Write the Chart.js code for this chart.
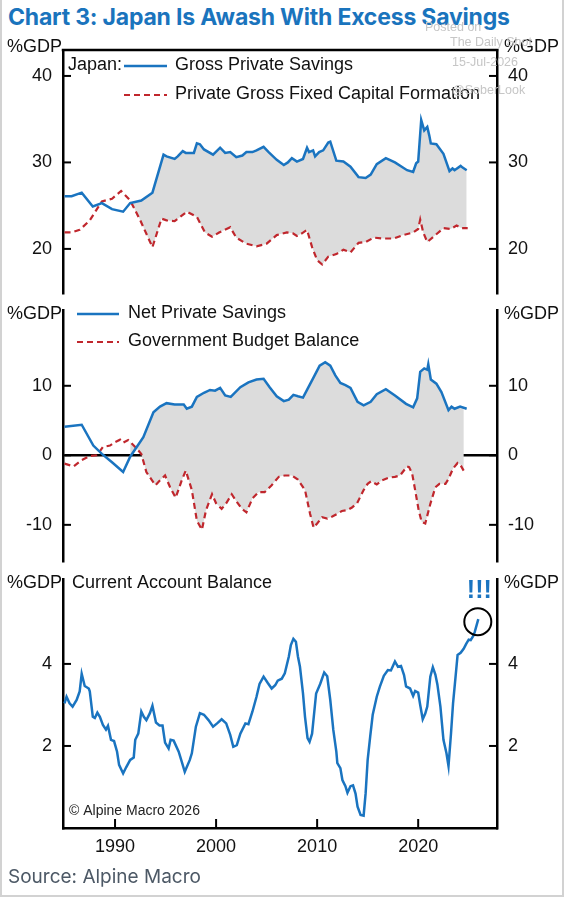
<!DOCTYPE html>
<html>
<head>
<meta charset="utf-8">
<script src="https://cdn.jsdelivr.net/npm/chart.js@4.4.1/dist/chart.umd.min.js"></script>
<style>
  body { margin: 0; background: #fff; }
  #wrap { position: relative; width: 564px; height: 897px; overflow: hidden; background: #fff; }
  canvas { position: absolute; left: 0; }
  #frame { position: absolute; left: 0; top: 0; width: 564px; height: 897px; box-sizing: border-box;
           border-left: 2px solid #d2d2d2; border-right: 2px solid #d2d2d2; border-bottom: 2px solid #d2d2d2; pointer-events: none; }
  #title { position: absolute; left: 8px; top: 3px; font-family: Inter, sans-serif; font-weight: 700; font-size: 23px;
           color: #1a74bd; white-space: nowrap; letter-spacing: -0.2px; }
  #source { position: absolute; left: 8px; top: 865px; font-family: Inter, sans-serif; font-weight: 400; font-size: 19px; color: #4d5966; }
  .wm { position: absolute; font-family: "Liberation Sans", Arial, sans-serif; font-size: 12.5px; color: #c6c6c6; white-space: nowrap; }
</style>
</head>
<body>
<div id="wrap">
  <div id="title">Chart 3: Japan Is Awash With Excess Savings</div>
  <canvas id="c1" width="564" height="320" style="top:0px"></canvas>
  <canvas id="c2" width="564" height="310" style="top:280px"></canvas>
  <canvas id="c3" width="564" height="320" style="top:550px"></canvas>
  <div class="wm" style="left:425px;top:20px">Posted on</div>
  <div class="wm" style="left:450px;top:35px">The Daily Shot</div>
  <div class="wm" style="left:452px;top:55px">15-Jul-2026</div>
  <div class="wm" style="left:452px;top:83px">@SoberLook</div>
  <div id="source">Source: Alpine Macro</div>
  <div id="frame"></div>
</div>
<script>
// ---- data ----
const grossSavYears = [1985.0,1985.7,1986.7,1987.8,1988.7,1989.7,1990.8,1991.5,1992.6,1993.7,1994.8,1995.1,1995.9,1996.2,1996.7,1997.0,1997.8,1998.1,1998.4,1998.8,1999.7,2000.4,2000.9,2001.4,2002.0,2002.6,2003.0,2003.6,2004.0,2004.7,2005.2,2006.0,2006.7,2007.1,2007.5,2008.0,2008.6,2009.0,2009.2,2009.6,2009.8,2010.2,2010.6,2011.1,2011.3,2011.9,2012.6,2013.3,2014.1,2014.8,2015.3,2015.9,2016.8,2017.7,2018.9,2019.5,2019.8,2020.0,2020.3,2020.6,2020.9,2021.1,2021.25,2021.8,2022.5,2023.1,2023.4,2023.6,2024.2,2024.4,2024.8];
const grossSavValues = [26.1,26.1,26.5,24.9,25.3,24.6,24.3,25.3,25.6,26.5,30.9,30.7,30.4,30.7,31.3,31.1,31.1,32.2,32.1,31.5,30.9,31.7,31.1,31.2,30.6,30.8,31.2,31.2,31.4,31.8,31.2,30.3,29.7,30.0,30.5,30.1,30.4,31.7,31.2,31.4,30.7,31.2,31.4,32.3,32.4,30.2,30.1,29.5,28.3,28.2,28.6,29.8,30.5,30.0,29.1,28.9,29.9,30.1,34.9,33.7,34.1,33.1,32.2,32.1,31.0,29.0,29.3,29.1,29.6,29.4,29.1];

const capFormYears = [1985.0,1985.7,1986.5,1987.5,1988.7,1989.7,1990.6,1991.5,1992.5,1993.7,1994.6,1995.1,1995.9,1997.1,1998.1,1998.9,1999.6,2000.3,2001.4,2002.0,2003.0,2004.0,2005.0,2006.0,2007.0,2007.6,2008.0,2008.5,2009.0,2009.5,2010.0,2010.5,2011.1,2011.9,2012.6,2013.3,2014.1,2014.8,2015.6,2016.6,2017.6,2018.5,2019.5,2020.0,2020.2,2020.5,2020.9,2021.5,2022.5,2023.2,2023.8,2024.3,2024.9];
const capFormValues = [21.9,21.9,22.2,23.3,25.5,25.8,26.7,25.6,23.3,20.2,23.5,23.3,23.2,24.3,23.7,21.9,21.4,21.9,22.5,21.3,20.6,20.3,20.6,21.6,21.9,21.8,21.5,21.8,22.2,20.2,18.7,18.2,19.1,19.4,19.9,19.6,20.7,20.8,21.3,21.2,21.2,21.6,21.9,22.3,23.4,21.9,20.8,21.4,22.4,22.3,22.7,22.4,22.4];

const netSavYears = [1985.0,1986.7,1987.85,1988.7,1989.7,1990.8,1991.5,1992.8,1993.8,1994.45,1995.1,1995.9,1996.8,1997.1,1997.6,1998.1,1998.8,1999.4,1999.9,2000.4,2000.9,2001.45,2002.4,2003.2,2004.0,2004.7,2005.3,2006.0,2006.7,2007.2,2007.65,2008.1,2008.6,2009.0,2009.65,2010.25,2010.8,2011.3,2011.8,2012.3,2012.8,2013.3,2014.0,2014.6,2015.3,2015.9,2016.8,2017.7,2018.8,2019.5,2019.9,2020.2,2020.6,2020.9,2021.0,2021.25,2021.8,2022.3,2023.0,2023.3,2023.6,2024.15,2024.8];
const netSavValues = [4.1,4.4,1.4,0.2,-1.0,-2.4,-0.2,2.6,6.2,7.0,7.5,7.3,7.3,6.7,7.0,8.4,9.0,9.4,9.3,9.7,8.6,8.4,9.8,10.5,10.9,11.0,9.8,8.5,7.8,8.0,8.7,8.5,8.3,9.4,11.2,12.9,13.4,12.9,11.5,10.4,10.1,9.7,7.7,7.2,7.7,8.8,9.5,8.6,7.4,6.9,8.2,12.0,12.5,12.3,13.1,10.9,10.3,9.1,6.5,7.0,6.7,7.0,6.7];

const budgetYears = [1985.0,1985.9,1986.7,1987.5,1988.2,1988.8,1989.5,1990.0,1990.5,1990.8,1991.3,1992.0,1992.6,1993.1,1994.0,1994.45,1994.95,1995.45,1996.0,1996.6,1997.0,1997.6,1998.1,1998.6,1999.0,1999.6,2000.0,2000.55,2001.0,2001.55,2002.05,2002.55,2003.0,2003.6,2004.2,2004.8,2005.5,2006.2,2006.8,2007.5,2008.1,2008.8,2009.3,2009.65,2010.0,2010.5,2011.0,2011.5,2012.0,2012.45,2012.95,2013.45,2013.95,2014.6,2015.0,2015.35,2015.9,2016.4,2017.1,2017.7,2018.2,2018.9,2019.1,2019.4,2019.7,2020.05,2020.35,2020.7,2021.2,2021.7,2022.1,2022.7,2023.0,2023.45,2023.9,2024.15,2024.5];
const budgetValues = [-1.2,-1.6,-0.7,-0.1,0.0,1.2,1.4,1.9,2.25,1.8,2.2,1.2,0.2,-2.4,-4.3,-3.6,-2.9,-4.6,-6.1,-3.6,-2.2,-5.0,-9.4,-10.7,-7.9,-5.6,-6.9,-7.7,-6.9,-5.6,-6.7,-7.7,-8.2,-6.2,-5.3,-5.3,-4.3,-3.1,-2.9,-2.9,-3.5,-5.0,-8.4,-10.4,-9.8,-8.9,-9.1,-8.8,-8.4,-8.0,-7.9,-7.5,-6.9,-5.0,-4.1,-3.7,-4.2,-3.6,-3.2,-3.1,-2.9,-1.6,-1.7,-2.6,-5.0,-7.9,-9.6,-9.8,-7.0,-4.6,-4.1,-4.1,-3.4,-1.9,-1.1,-1.3,-2.2];

const caYears = [1985.0,1985.2,1985.5,1985.8,1986.2,1986.5,1986.7,1987.0,1987.4,1987.5,1987.8,1988.0,1988.25,1988.5,1988.8,1989.1,1989.3,1989.6,1989.9,1990.2,1990.4,1990.8,1991.1,1991.5,1991.85,1992.0,1992.3,1992.6,1992.85,1993.1,1993.45,1993.7,1994.05,1994.4,1994.7,1994.95,1995.3,1995.5,1995.8,1996.3,1996.6,1996.9,1997.4,1997.6,1998.0,1998.4,1998.8,1999.25,1999.7,2000.1,2000.55,2001.0,2001.4,2001.7,2002.05,2002.4,2002.9,2003.2,2003.6,2004.0,2004.3,2004.7,2005.1,2005.5,2005.85,2006.1,2006.5,2006.8,2007.2,2007.4,2007.65,2007.9,2008.1,2008.3,2008.6,2008.8,2009.05,2009.25,2009.5,2009.9,2010.3,2010.7,2011.0,2011.3,2011.6,2011.9,2012.0,2012.3,2012.5,2012.8,2013.0,2013.3,2013.55,2013.8,2014.0,2014.3,2014.6,2014.8,2015.0,2015.25,2015.5,2015.9,2016.2,2016.6,2017.0,2017.3,2017.5,2017.7,2018.0,2018.3,2018.6,2018.8,2019.2,2019.5,2019.7,2020.0,2020.2,2020.45,2020.7,2020.9,2021.2,2021.45,2021.7,2021.9,2022.2,2022.5,2022.8,2023.0,2023.25,2023.45,2023.7,2023.9,2024.2,2024.5,2024.75,2025.0,2025.2,2025.45,2025.6,2025.95];
const caValues = [3.04,3.2,3.04,2.96,3.12,3.33,3.76,3.46,3.4,3.33,2.71,2.68,2.81,2.71,2.51,2.4,2.49,2.15,2.12,1.86,1.54,1.33,1.48,1.66,1.72,2.15,2.3,2.84,2.71,2.63,2.8,2.98,2.57,2.5,2.5,2.08,1.94,2.15,2.13,1.86,1.62,1.37,1.66,1.82,2.47,2.8,2.76,2.63,2.47,2.55,2.65,2.55,2.27,1.98,2.02,2.3,2.55,2.53,2.84,3.2,3.51,3.69,3.54,3.4,3.48,3.59,3.64,3.77,4.18,4.46,4.61,4.54,4.18,3.93,3.28,2.71,2.19,2.1,2.3,3.28,3.51,3.79,3.7,3.12,2.39,1.86,1.58,1.46,1.17,1.02,0.86,1.02,1.04,0.84,0.52,0.32,0.3,0.85,1.66,2.23,2.76,3.2,3.44,3.71,3.85,3.84,3.95,4.06,3.93,3.95,3.73,3.45,3.4,3.22,3.34,3.3,3.0,2.65,2.79,2.96,3.69,3.92,3.74,3.5,2.96,2.15,1.82,1.51,2.31,3.04,3.69,4.22,4.27,4.37,4.49,4.59,4.58,4.68,4.78,5.09];

const xTickYears = [1990, 2000, 2010, 2020];
const grossTicks = [20, 30, 40];
const netTicks = [-10, 0, 10];
const caTicks = [2, 4];
const fillStartYear = 1991.5;

// ---- styling ----
const FONT = '"Liberation Sans", Arial, sans-serif';
const BLUE = '#1a74c0';
const RED = '#c0272d';
const FILL = '#dcdcdc';
Chart.defaults.font.family = FONT;
Chart.defaults.color = '#000';

function pts(xs, ys) { return xs.map((x, i) => ({ x: x, y: ys[i] })); }

function blueLine(label, xs, ys) {
  return { label: label, data: pts(xs, ys), borderColor: BLUE, borderWidth: 2.5, pointRadius: 0, fill: false };
}
function redLine(label, xs, ys) {
  return { label: label, data: pts(xs, ys), borderColor: RED, borderWidth: 2.2, borderDash: [6, 4], pointRadius: 0, fill: false };
}
function fillBand(xs, ys) {
  const d = pts(xs, ys).filter(p => p.x >= fillStartYear);
  return { label: 'band', data: d, borderWidth: 0, borderColor: 'rgba(0,0,0,0)', pointRadius: 0, backgroundColor: FILL, fill: 1 };
}

function yAxis(pos, min, max, ticks, zeroLine) {
  return {
    type: 'linear', position: pos, min: min, max: max,
    afterFit: s => { s.width = pos === 'left' ? 63 : 67; },
    afterBuildTicks: s => { s.ticks = ticks.map(v => ({ value: v })); },
    grid: { display: !!zeroLine, drawTicks: false, lineWidth: 2.5,
            color: c => (c.tick && c.tick.value === 0) ? '#000' : 'rgba(0,0,0,0)' },
    border: { display: true, color: '#000', width: 2.5 },
    ticks: { padding: 11, color: '#111', font: { size: 18 }, callback: v => String(v) }
  };
}
function xAxis(show) {
  return {
    type: 'linear', min: 1984.85, max: 2027.8, display: show,
    afterBuildTicks: s => { s.ticks = xTickYears.map(v => ({ value: v })); },
    afterFit: s => { if (show) s.height = 42; },
    grid: { display: false, drawTicks: false },
    border: { display: true, color: '#000', width: 2.5 },
    ticks: { padding: 8, color: '#111', font: { size: 18 }, maxRotation: 0, callback: v => String(v) }
  };
}

function line(ctx, x1, y1, x2, y2) { ctx.beginPath(); ctx.moveTo(x1, y1); ctx.lineTo(x2, y2); ctx.stroke(); }

const decor = {
  id: 'decor',
  afterDraw(chart, args, o) {
    const ctx = chart.ctx, a = chart.chartArea, yL = chart.scales.y, xs = chart.scales.x;
    ctx.save();
    ctx.strokeStyle = '#000'; ctx.lineWidth = 2; ctx.setLineDash([]);
    yL.ticks.forEach(t => {
      const py = yL.getPixelForValue(t.value);
      line(ctx, a.left, py, a.left + 8, py);
      line(ctx, a.right - 8, py, a.right, py);
    });
    if (o.xTicks) {
      xs.ticks.forEach(t => { const px = xs.getPixelForValue(t.value); line(ctx, px, a.bottom, px, a.bottom - 9); });
    }
    if (o.topBorder) { ctx.lineWidth = 2.5; line(ctx, a.left - 1.25, a.top, a.right + 1.25, a.top); }

    ctx.font = '18px ' + FONT; ctx.fillStyle = '#111'; ctx.textBaseline = 'middle';
    ctx.textAlign = 'right'; ctx.fillText('%GDP', a.left - 1, a.top + o.unitDy);
    ctx.textAlign = 'left'; ctx.fillText('%GDP', a.right + 7, a.top + o.unitDy);

    if (o.legend) {
      const L = o.legend;
      if (L.prefix) ctx.fillText(L.prefix, a.left + 5, a.top + L.rows[0]);
      L.rows.forEach((dy, i) => {
        const ds = chart.data.datasets[i];
        const y = a.top + dy;
        ctx.strokeStyle = ds.borderColor; ctx.lineWidth = ds.borderWidth;
        ctx.setLineDash(ds.borderDash || []);
        line(ctx, a.left + L.lineX, y + 1, a.left + L.lineX + L.lineLen, y + 1);
        ctx.setLineDash([]);
        ctx.fillStyle = '#111';
        ctx.fillText(ds.label, a.left + L.textX, y);
      });
    }
    if (o.caption) {
      ctx.fillStyle = '#111'; ctx.font = '18px ' + FONT;
      ctx.fillText(o.caption, a.left + 9, a.top + 4);
      ctx.font = '14px ' + FONT; ctx.fillStyle = '#222';
      ctx.fillText('\u00A9 Alpine Macro 2026', a.left + 6, a.bottom - 17);
    }
    if (o.highlight) {
      const m = chart.getDatasetMeta(0);
      const p = m.data[m.data.length - 1];
      ctx.strokeStyle = '#000'; ctx.lineWidth = 2;
      ctx.beginPath(); ctx.arc(p.x - 0.5, p.y + 2.5, 13.5, 0, Math.PI * 2); ctx.stroke();
      ctx.fillStyle = BLUE; ctx.font = 'bold 25px ' + FONT; ctx.textAlign = 'center';
      ctx.fillText('!!!', p.x + 1, p.y - 28);
    }
    ctx.restore();
  }
};

function baseOptions(pad, scales, decorOpts) {
  return {
    responsive: false, animation: false, devicePixelRatio: 1,
    layout: { padding: pad },
    scales: scales,
    elements: { line: { tension: 0 } },
    plugins: { legend: { display: false }, tooltip: { enabled: false }, decor: decorOpts }
  };
}

new Chart(document.getElementById('c1'), {
  type: 'line',
  data: { datasets: [
    blueLine('Gross Private Savings', grossSavYears, grossSavValues),
    redLine('Private Gross Fixed Capital Formation', capFormYears, capFormValues),
    fillBand(grossSavYears, grossSavValues)
  ] },
  options: baseOptions({ top: 50, bottom: 27, left: 0, right: 0 },
    { x: xAxis(false), y: yAxis('left', 14.9, 43.0, grossTicks, false), y2: yAxis('right', 14.9, 43.0, grossTicks, false) },
    { topBorder: true, unitDy: -3, legend: { prefix: 'Japan:', rows: [15, 44], lineX: 61, lineLen: 43, textX: 112 } }),
  plugins: [decor]
});

new Chart(document.getElementById('c2'), {
  type: 'line',
  data: { datasets: [
    blueLine('Net Private Savings', netSavYears, netSavValues),
    redLine('Government Budget Balance', budgetYears, budgetValues),
    fillBand(netSavYears, netSavValues)
  ] },
  options: baseOptions({ top: 30, bottom: 29, left: 0, right: 0 },
    { x: xAxis(false), y: yAxis('left', -15.2, 20.9, netTicks, true), y2: yAxis('right', -15.2, 20.9, netTicks, false) },
    { unitDy: 4, legend: { rows: [3, 31], lineX: 14, lineLen: 42, textX: 65 } }),
  plugins: [decor]
});

new Chart(document.getElementById('c3'), {
  type: 'line',
  data: { datasets: [ blueLine('Current Account Balance', caYears, caValues) ] },
  options: baseOptions({ top: 29, bottom: 0, left: 0, right: 0 },
    { x: xAxis(true), y: yAxis('left', 0, 6.07, caTicks, false), y2: yAxis('right', 0, 6.07, caTicks, false) },
    { unitDy: 4, xTicks: true, caption: 'Current Account Balance', highlight: true }),
  plugins: [decor]
});
</script>
</body>
</html>
